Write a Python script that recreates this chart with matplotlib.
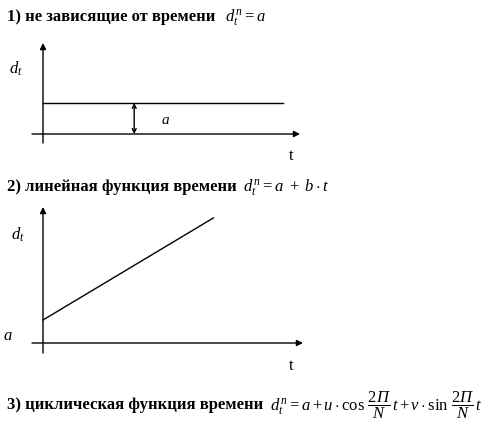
import matplotlib
matplotlib.use("Agg")
import matplotlib.pyplot as plt
import numpy as np

# chart data
titles = ["1) не зависящие от времени",
          "2) линейная функция времени",
          "3) циклическая функция времени"]
formulas = [r"$d_t^{\,n} = a$",
            r"$d_t^{\,n} = a\ +\ b\cdot t$",
            r"$d_t^{\,n} = a + u\cdot \cos\,\dfrac{2\mathit{П}}{N}\,t + v\cdot \sin\,\dfrac{2\mathit{П}}{N}\,t$"]

a1 = 1.0                    # constant level
t1 = np.array([0.0, 10.0])  # time span of the constant line
t_mark = 3.8                # where the "a" distance arrow sits

a2 = 1.0                    # intercept of linear function
b2 = 0.625                  # slope
t2 = np.array([0.0, 7.1])

plt.rcParams["font.family"] = ["Liberation Serif", "DejaVu Serif"]
plt.rcParams["mathtext.fontset"] = "custom"
plt.rcParams["mathtext.rm"] = "Liberation Serif"
plt.rcParams["mathtext.it"] = "Liberation Serif:italic"
plt.rcParams["mathtext.bf"] = "Liberation Serif:bold"

W, H = 500, 428
fig = plt.figure(figsize=(W / 100, H / 100), dpi=100)


def px_axes(x0, x1, ytop, ybot):
    ax = fig.add_axes([x0 / W, 1 - ybot / H, (x1 - x0) / W, (ybot - ytop) / H])
    ax.set_axis_off()
    return ax


def fx(x):
    return x / W


def fy(y):
    return 1 - y / H


def draw_axes(ax, x_end, y_top, x_start, y_bot):
    arrow = dict(arrowstyle="-|>", color="black", lw=1.0, mutation_scale=9,
                 shrinkA=0, shrinkB=0)
    ax.annotate("", xy=(x_end, 0), xytext=(x_start, 0), arrowprops=arrow)
    ax.annotate("", xy=(0, y_top), xytext=(0, y_bot), arrowprops=arrow)


# panel 1: constant
ax1 = px_axes(30, 305, 40, 145)
ax1.set_xlim(-13 / 24, 262 / 24)
ax1.set_ylim(-11 / 31, 94 / 31)
draw_axes(ax1, 257 / 24, 91 / 31, -11 / 24, -9 / 31)
ax1.plot(t1, [a1, a1], color="black", lw=1.0)
ax1.annotate("", xy=(t_mark, a1), xytext=(t_mark, 0),
             arrowprops=dict(arrowstyle="<->", color="black", lw=1.0,
                             mutation_scale=7, shrinkA=0, shrinkB=0))

# panel 2: linear
ax2 = px_axes(30, 305, 200, 357)
ax2.set_xlim(-13 / 24, 262 / 24)
ax2.set_ylim(-14 / 23, 143 / 23)
draw_axes(ax2, 260 / 24, 136 / 23, -11 / 24, -10 / 23)
ax2.plot(t2, a2 + b2 * t2, color="black", lw=1.0)

# text
title_y = [17, 187, 405]
formula_x = [225, 243, 270]
formula_fs = [12, 12, 12]
for ty, tt, fxp, ff, fs in zip(title_y, titles, formula_x, formulas, formula_fs):
    fig.text(fx(7), fy(ty), tt, fontsize=12, fontweight="bold", va="center")
    fig.text(fx(fxp), fy(ty), ff, fontsize=fs, va="center")

fig.text(fx(9), fy(69), r"$d_t$", fontsize=12, va="center")
fig.text(fx(161), fy(121), r"$a$", fontsize=11, va="center")
fig.text(fx(289), fy(156), "t", fontsize=12, va="center")

fig.text(fx(11), fy(235), r"$d_t$", fontsize=12, va="center")
fig.text(fx(3), fy(336), r"$a$", fontsize=12, va="center")
fig.text(fx(289), fy(366), "t", fontsize=12, va="center")

fig.savefig("out.png", dpi=100, facecolor="white")
plt.close(fig)
